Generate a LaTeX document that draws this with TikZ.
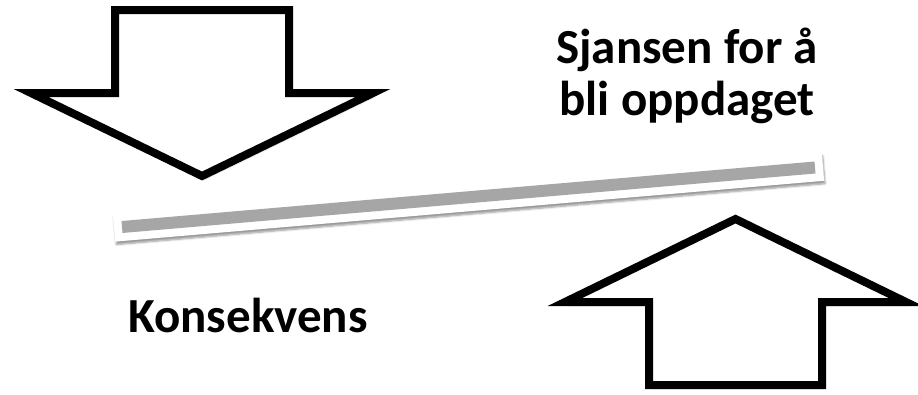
\documentclass[tikz,border=0pt]{standalone}
\usepackage{fontspec}
\setmainfont{Carlito}
\usetikzlibrary{shadows.blur}
\begin{document}
\begin{tikzpicture}[x=1pt,y=-1pt,
  bigarrow/.style={draw=black, fill=white, line width=8pt, miter limit=10, line join=miter,
    blur shadow={shadow xshift=2pt, shadow yshift=-3pt, shadow blur steps=6, shadow opacity=35}},
  barframe/.style={fill=white, blur shadow={shadow xshift=1pt, shadow yshift=-3pt, shadow blur steps=6, shadow opacity=40}},
  barline/.style={draw={rgb,255:red,166;green,166;blue,166}, line width=12pt},
  lbl/.style={font=\fontsize{49}{50}\selectfont\bfseries, align=center, inner sep=0pt}]
\useasboundingbox (0,0) rectangle (918,394);
% down arrow
\draw[bigarrow] (115,10) -- (289,10) -- (289,93) -- (373,93) -- (202,176) -- (31,93) -- (115,93) -- cycle;
% up arrow
\draw[bigarrow] (649,385) -- (822,385) -- (822,302) -- (906,302) -- (735.5,219) -- (565,302) -- (649,302) -- cycle;
% bar
\fill[barframe] (112.83,213.74) -- (821.77,152.87) -- (824.17,180.77) -- (115.23,241.63) -- cycle;
\coordinate (b1) at (122,227);
\coordinate (b2) at (815,167.5);
\draw[barline] (b1) -- (b2);
% labels
\node[lbl, anchor=base] (chance) at (687,63) {Sjansen for å};
\node[lbl, anchor=base] (chance2) at (687,115) {bli oppdaget};
\node[lbl, anchor=base] (cons) at (248,332) {Konsekvens};
\end{tikzpicture}
\end{document}
